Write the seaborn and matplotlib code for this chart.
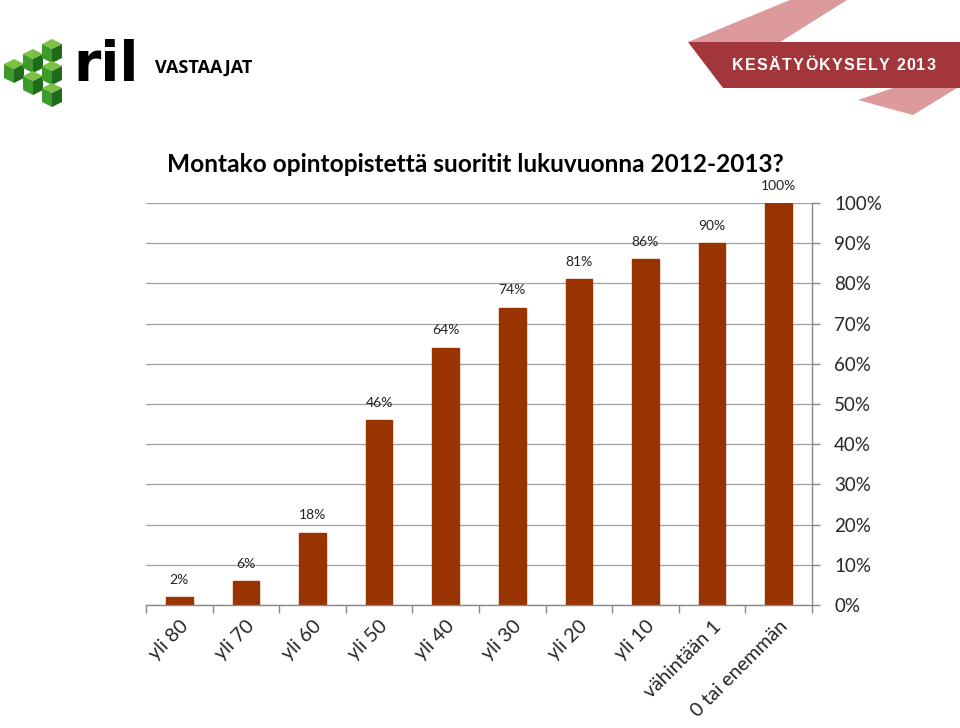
import matplotlib
matplotlib.use("Agg")
import matplotlib.pyplot as plt
from matplotlib.patches import Polygon
import seaborn as sns
import pandas as pd

# survey answers: cumulative share of respondents per credit bracket
categories = ["yli 80", "yli 70", "yli 60", "yli 50", "yli 40", "yli 30",
              "yli 20", "yli 10", "vähintään 1", "0 tai enemmän"]
shares = [2, 6, 18, 46, 64, 74, 81, 86, 90, 100]
y_ticks = [0, 10, 20, 30, 40, 50, 60, 70, 80, 90, 100]

title = "Montako opintopistettä suoritit lukuvuonna 2012-2013?"
header_left = "VASTAAJAT"
header_right = "KESÄTYÖKYSELY 2013"

BAR_COLOR = "#993300"

sns.set_theme(style="white")
plt.rcParams["font.family"] = ["Lato", "DejaVu Sans"]

df = pd.DataFrame({"cat": categories, "share": shares})

fig = plt.figure(figsize=(9.6, 7.28), dpi=100)
W, H = 960, 728


def fxy(x, y):
    # pixel coords (top-left origin) -> figure fraction
    return (x / W, 1 - y / H)


def poly(pts, color):
    fig.patches.append(Polygon([fxy(*p) for p in pts], closed=True,
                               transform=fig.transFigure, facecolor=color,
                               edgecolor="none", figure=fig))


# header ribbon
poly([(688, 42), (790, 0), (847, 0), (780, 42)], "#dc9a9c")
poly([(893, 88), (957, 88), (913, 115), (858, 100)], "#dc9a9c")
poly([(688, 42), (960, 42), (960, 88), (723, 88)], "#a3363b")

# letter-spaced ribbon label, one char at a time
renderer = fig.canvas.get_renderer()
x = 732
for ch in header_right:
    t = fig.text(*fxy(x, 66), ch, color="white", fontsize=11.5,
                 fontweight="bold", family="Liberation Sans",
                 ha="left", va="center")
    w = t.get_window_extent(renderer=renderer).width
    x += (w if ch != " " else 4) + 1.3


# logo: little green cubes + "ril"
def cube(cx, cy):
    w, h, d = 10, 5, 14
    poly([(cx - w, cy), (cx, cy - h), (cx + w, cy), (cx, cy + h)], "#7cc242")
    poly([(cx - w, cy), (cx, cy + h), (cx, cy + h + d), (cx - w, cy + d)], "#3f9a2c")
    poly([(cx + w, cy), (cx, cy + h), (cx, cy + h + d), (cx + w, cy + d)], "#1f6b1c")


for cx, cy in [(14, 64), (33, 54), (52, 44), (33, 76), (52, 66), (52, 88)]:
    cube(cx, cy)
fig.text(*fxy(73, 66), "ril", fontsize=40, fontweight="heavy",
         family="DejaVu Sans", ha="left", va="center", color="black")
fig.text(*fxy(155, 68), header_left, fontsize=13, fontweight="bold",
         family="Open Sans", ha="left", va="center", color="black")

fig.text(*fxy(167, 165), title, fontsize=17.6, fontweight="bold",
         ha="left", va="center", color="black")

# chart
ax = fig.add_axes([146 / W, 1 - 605 / H, (812 - 146) / W, (605 - 203) / H])
sns.barplot(data=df, x="cat", y="share", color=BAR_COLOR, width=0.4,
            saturation=1, ax=ax)
for p in ax.patches:
    p.set_edgecolor(BAR_COLOR)

for i, v in enumerate(shares):
    ax.text(i, v + 2.8, f"{v}%", ha="center", va="bottom",
            fontsize=10, color="#222222")

ax.set_ylim(0, 100)
ax.set_xlim(-0.5, len(categories) - 0.5)
ax.set_yticks(y_ticks)
ax.set_yticklabels([f"{t}%" for t in y_ticks], fontsize=13.5)
ax.yaxis.tick_right()
ax.grid(axis="y", color="#a0a0a0", linewidth=0.9)
ax.set_axisbelow(True)

ax.set_xticks([i - 0.5 for i in range(len(categories) + 1)], minor=True)
ax.set_xticks(range(len(categories)))
ax.set_xticklabels(categories, rotation=45, ha="right",
                   rotation_mode="anchor", fontsize=14.2)
ax.tick_params(axis="x", which="major", length=0, pad=9)
ax.tick_params(axis="x", which="minor", length=6, width=1, color="#888888",
               direction="out", bottom=True)
ax.tick_params(axis="y", length=6, width=1, color="#888888", direction="out",
               right=True, pad=10)

for side in ["top", "left"]:
    ax.spines[side].set_visible(False)
for side in ["bottom", "right"]:
    ax.spines[side].set_color("#888888")
    ax.spines[side].set_linewidth(1)

ax.set_xlabel("")
ax.set_ylabel("")

fig.savefig("out.png", dpi=100, facecolor="white")
